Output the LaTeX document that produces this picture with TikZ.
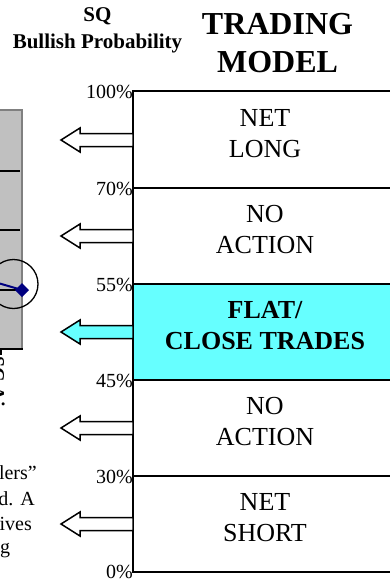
\documentclass[tikz,border=0pt]{standalone}
\usepackage{fontspec}
\setmainfont{Liberation Serif}
\definecolor{cyanfill}{HTML}{66FFFF}
\definecolor{chartgray}{HTML}{C0C0C0}
\definecolor{chartborder}{HTML}{808080}
\definecolor{navyline}{HTML}{000080}
\tikzset{
  bandline/.style={line width=2.2pt},
  bandtext/.style={inner sep=0pt, align=center, font=\fontsize{26}{31}\selectfont},
  bandbold/.style={bandtext, font=\fontsize{26}{31}\selectfont\bfseries},
  pctlabel/.style={inner sep=0pt, anchor=base east, font=\fontsize{20}{24}\selectfont},
  leftarrow/.style={line width=1.5pt, line join=miter, draw=black},
  bodytext/.style={inner sep=0pt, font=\fontsize{20}{24}\selectfont},
  gridline/.style={line width=1.5pt, black},
}
\begin{document}
\begin{tikzpicture}[x=1pt,y=-1pt]
\useasboundingbox (0,0) rectangle (390,579);
\clip (0,0) rectangle (390,579);
% titles
\node[inner sep=0pt, align=center, font=\fontsize{21}{27}\selectfont\bfseries] (sqtitle) at (97.5,30.5) {SQ\\Bullish Probability};
\node[inner sep=0pt, align=center, font=\fontsize{32}{38}\selectfont\bfseries] (tmtitle) at (277.5,43) {TRADING\\MODEL};
% left chart fragment
\fill[chartgray] (-5,110) rectangle (22,349);
\draw[chartborder, line width=2pt] (-5,110) -- (22,110) -- (22,349);
\draw[black, line width=2pt] (-5,349) -- (23,349);
\draw[black, line width=1.2pt] (1,349) -- (1,355);
\foreach \g in {171,230,290} { \draw[gridline] (-5,\g) -- (20,\g); }
\draw[navyline, line width=2pt] (-2,283) -- (22,290);
\fill[navyline] (22,283) -- (29,290) -- (22,297) -- (15,290) -- cycle;
\draw[black, line width=1.3pt] (13.5,284) circle (24.5);
\node[inner sep=0pt, rotate=-90, anchor=north west, font=\fontsize{20}{24}\selectfont\bfseries] (rottext) at (5,356) {SC Ai};
% bottom-left paragraph fragment
\node[bodytext, anchor=base east] (l1) at (37,479) {lers”};
\node[bodytext, anchor=base east] (l2) at (35,505) {d.\hspace{7pt}A};
\node[bodytext, anchor=base east] (l3) at (32,530) {ives};
\node[bodytext, anchor=base west] (l4) at (0,553) {g};
% model box
\fill[cyanfill] (133,284) rectangle (400,380);
\foreach \y in {91,188,284,380,476,572} { \draw[bandline] (133,\y) -- (400,\y); }
\draw[bandline] (133,90) -- (133,573);
% percent labels
\node[pctlabel] (p100) at (133,98) {100\%};
\node[pctlabel] (p70) at (133,195) {70\%};
\node[pctlabel] (p55) at (133,291) {55\%};
\node[pctlabel] (p45) at (133,387) {45\%};
\node[pctlabel] (p30) at (133,483) {30\%};
\node[pctlabel] (p0) at (133,578) {0\%};
% band texts
\node[bandtext] (netlong) at (265,133.5) {NET\\LONG};
\node[bandtext] (noaction1) at (265,230) {NO\\ACTION};
\node[bandbold] (flat) at (265,326) {FLAT/\\CLOSE TRADES};
\node[bandtext] (noaction2) at (265,422) {NO\\ACTION};
\node[bandtext] (netshort) at (265,518) {NET\\SHORT};
% arrows
\foreach \c/\f in {140/white,236/white,332/cyanfill,428/white,524/white} {
  \draw[leftarrow, fill=\f] (61,\c) -- (80,\c-12) -- (80,\c-6.5) -- (133,\c-6.5) -- (133,\c+6.5) -- (80,\c+6.5) -- (80,\c+12) -- cycle;
}
\end{tikzpicture}
\end{document}
